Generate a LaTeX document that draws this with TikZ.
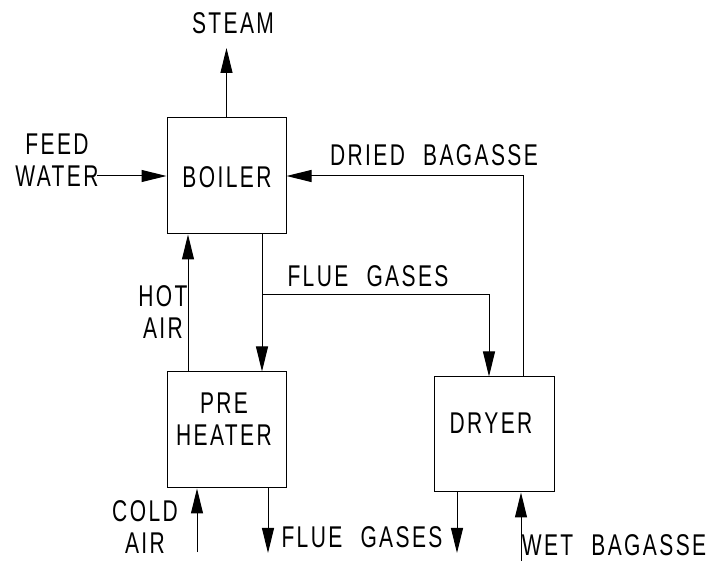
\documentclass[tikz,border=0pt]{standalone}
\usepackage{fontspec}
\setmainfont{Liberation Sans}[FakeStretch=0.7,LetterSpace=8,WordSpace=2.2]
\usepackage{tikz}
\usetikzlibrary{arrows.meta,positioning,calc}

\begin{document}
\begin{tikzpicture}[
        x=1pt,y=-1pt,
        unit/.style={draw,line width=1pt,minimum width=119pt,minimum height=116pt,
                     inner sep=0pt},
        lbl/.style={font=\fontsize{30}{32}\selectfont,align=center,inner sep=0pt},
        flow/.style={line width=1pt,-{Triangle[length=25pt,width=12pt]}},
      ]
        \useasboundingbox (0,0) rectangle (713,561);
        % units
        \node[unit](boiler) at (226.5,176){};
        \node[unit](pre) at (226.5,430){};
        \node[unit,minimum width=120pt,minimum height=115pt](dryer) at (494,434.5){};
        \node[lbl](boilertxt) at (227,177){BOILER};
        \node[lbl](pretxt) at (224,419){PRE\\HEATER};
        \node[lbl](dryertxt) at (491,423){DRYER};
        % stream labels
        \node[lbl](steamtxt) at (233,23){STEAM};
        \node[lbl](feedtxt) at (57,160){FEED\\WATER};
        \node[lbl](driedtxt) at (434,155){DRIED BAGASSE};
        \node[lbl](fluetxt) at (368,276){FLUE GASES};
        \node[lbl](hottxt) at (163,312){HOT\\AIR};
        \node[lbl](coldtxt) at (145,527){COLD\\AIR};
        \node[lbl](flueouttxt) at (362,537){FLUE GASES};
        \node[lbl](wettxt) at (614,545){WET BAGASSE};
        % free ends
        \coordinate(steamend) at (226.5,48);
        \coordinate(feedin) at (97,176);
        \coordinate(split) at (262,295);
        \coordinate(coldin) at (197,552);
        \coordinate(flueout) at (268,553);
        \coordinate(dryout) at (457,553);
        \coordinate(wetin) at (521,561);
        % streams
        \draw[flow](boiler.north)--(steamend);
        \draw[flow](feedin)--(boiler.west);
        \draw[flow]([xshift=29pt]dryer.north)|-(boiler.east);
        \draw[flow]([xshift=-38.5pt]pre.north)--([xshift=-38.5pt]boiler.south);
        \draw[flow]([xshift=35.5pt]boiler.south)--([xshift=35.5pt]pre.north);
        \draw[flow](split)-|([xshift=-5pt]dryer.north);
        \draw[flow](coldin)--(coldin|-pre.south);
        \draw[flow](flueout|-pre.south)--(flueout);
        \draw[flow](dryout|-dryer.south)--(dryout);
        \draw[flow](wetin)--(wetin|-dryer.south);
      \end{tikzpicture}
\end{document}
